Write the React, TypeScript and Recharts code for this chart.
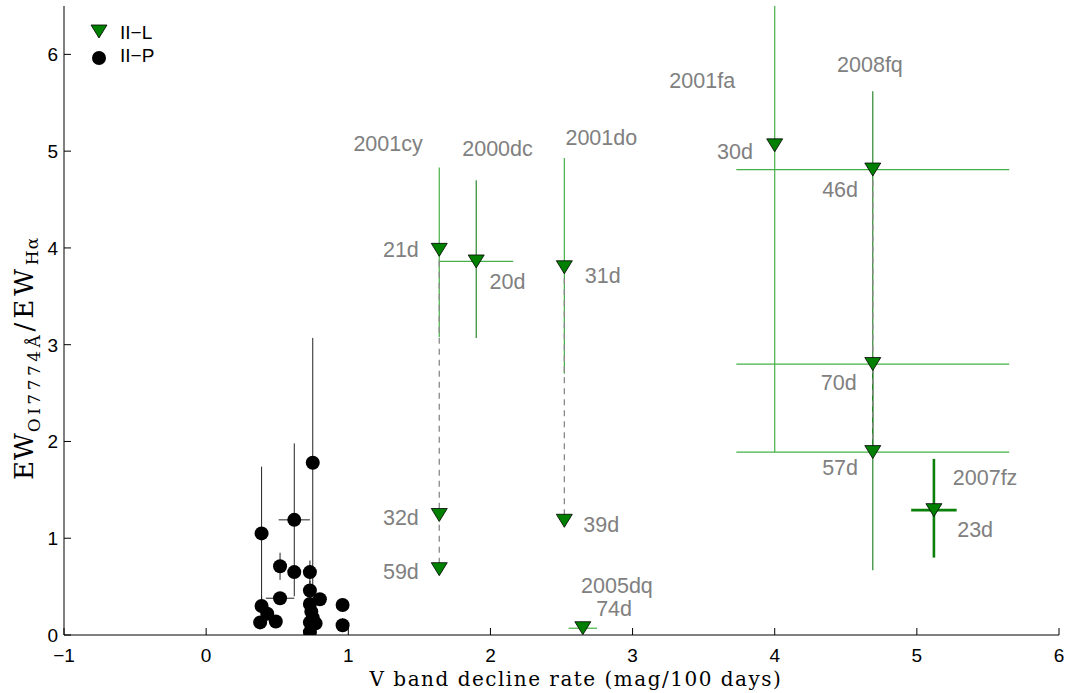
import { ErrorBar, Scatter, ScatterChart, XAxis, YAxis } from 'recharts'

// Type II-L measurements
const IIL_NAMES = ['2001cy', '2001cy', '2001cy', '2000dc', '2001do', '2001do', '2005dq', '2001fa', '2008fq', '2008fq', '2008fq', '2007fz']
const IIL_EPOCHS = ['21d', '32d', '59d', '20d', '31d', '39d', '74d', '30d', '46d', '70d', '57d', '23d']
const IIL_RATE = [1.64, 1.64, 1.64, 1.9, 2.52, 2.52, 2.65, 4.0, 4.69, 4.69, 4.69, 5.12]
const IIL_RATIO = [3.98, 1.24, 0.68, 3.86, 3.8, 1.18, 0.07, 5.06, 4.81, 2.8, 1.89, 1.29]
const IIL_YERR_LO = [0.9, 0, 0, 0.79, 1.1, 0, 0, 3.17, 0.8, 0.92, 1.22, 0.49]
const IIL_YERR_HI = [0.85, 0, 0, 0.84, 1.13, 0, 0, 1.44, 0.81, 1.21, 0.9, 0.53]
const IIL_XERR = [0, 0, 0, 0.26, 0, 0, 0.1, 0, 0.96, 0.96, 0.96, 0.16]

// Type II-P measurements
const IIP_RATE = [0.75, 0.39, 0.62, 0.52, 0.62, 0.73, 0.52, 0.39, 0.43, 0.38, 0.49, 0.73, 0.8, 0.73, 0.74, 0.73, 0.77, 0.73, 0.96, 0.96, 0.75]
const IIP_RATIO = [1.78, 1.05, 1.19, 0.71, 0.65, 0.65, 0.38, 0.3, 0.22, 0.13, 0.14, 0.46, 0.37, 0.32, 0.24, 0.13, 0.12, 0.03, 0.31, 0.1, 0.18]
const IIP_YERR = [1.29, 0.69, 0.79, 0.14, 0, 0.12, 0, 0.1, 0, 0, 0, 0.1, 0.05, 0, 0, 0, 0, 0, 0.07, 0.07, 0]
const IIP_XERR = [0, 0, 0.11, 0, 0, 0, 0.1, 0, 0, 0, 0, 0, 0.05, 0, 0, 0, 0, 0, 0, 0, 0]

// Text annotations (data coordinates)
const NOTE_TEXT = ['2001cy', '2000dc', '2001do', '2001fa', '2008fq', '21d', '20d', '31d', '30d', '46d', '70d', '57d', '2007fz', '23d', '32d', '59d', '39d', '2005dq', '74d']
const NOTE_X = [1.28, 2.05, 2.78, 3.49, 4.67, 1.37, 2.12, 2.79, 3.72, 4.46, 4.45, 4.46, 5.48, 5.41, 1.37, 1.37, 2.78, 2.89, 2.87]
const NOTE_Y = [5.07, 5.02, 5.14, 5.73, 5.89, 3.98, 3.65, 3.71, 4.99, 4.6, 2.6, 1.73, 1.62, 1.09, 1.21, 0.65, 1.14, 0.51, 0.27]

const X_TICKS = [-1, 0, 1, 2, 3, 4, 5, 6]
const Y_TICKS = [0, 1, 2, 3, 4, 5, 6]

const LIGHT_V = ['2001cy', '2001do', '2001fa']
const THICK = ['2007fz']
const CONNECTED = ['2001cy', '2001do', '2008fq']

const LIGHT = '#45b045'
const DARK = '#1a7a1a'
const TICK_FONT = { fontFamily: 'Liberation Sans, Arial, sans-serif', fontSize: 19, fill: '#000' }

const iilRows = IIL_NAMES.map((name, i) => {
  const ey = [IIL_YERR_LO[i], IIL_YERR_HI[i]]
  const none = [0, 0]
  const thick = THICK.includes(name)
  return {
    name,
    epoch: IIL_EPOCHS[i],
    x: IIL_RATE[i],
    y: IIL_RATIO[i],
    eyLight: !thick && LIGHT_V.includes(name) ? ey : none,
    eyDark: !thick && !LIGHT_V.includes(name) ? ey : none,
    exLight: thick ? 0 : IIL_XERR[i],
    eyThick: thick ? ey : none,
    exThick: thick ? IIL_XERR[i] : 0,
  }
})

const connectors = CONNECTED.map((sn) =>
  iilRows.filter((r) => r.name === sn).sort((a, b) => b.y - a.y),
)

const iipRows = IIP_RATE.map((x, i) => ({ x, y: IIP_RATIO[i], ey: IIP_YERR[i], ex: IIP_XERR[i] }))

const notes = NOTE_TEXT.map((text, i) => ({ text, x: NOTE_X[i], y: NOTE_Y[i] }))

const Triangle = ({ cx, cy }: any) => (
  <path
    d={`M${cx - 8},${cy - 6.5}L${cx + 8},${cy - 6.5}L${cx},${cy + 6.5}Z`}
    fill="#008000"
    stroke="#000"
    strokeWidth={0.8}
  />
)

const Dot = ({ cx, cy }: any) => <circle cx={cx} cy={cy} r={7} fill="#000" />

const Nothing = () => <g />

const BottomTick = ({ x, y, payload }: any) => (
  <g>
    <line x1={x} y1={y} x2={x} y2={y - 7} stroke="#000" />
    <text x={x} y={y + 27} textAnchor="middle" {...TICK_FONT}>
      {payload.value < 0 ? `\u2212${Math.abs(payload.value)}` : payload.value}
    </text>
  </g>
)

const LeftTick = ({ x, y, payload }: any) => (
  <g>
    <line x1={x} y1={y} x2={x + 7} y2={y} stroke="#000" />
    <text x={x - 6} y={y + 7} textAnchor="end" {...TICK_FONT}>
      {payload.value}
    </text>
  </g>
)

const TopTick = ({ x, y }: any) => <line x1={x} y1={y} x2={x} y2={y + 7} stroke="#000" />
const RightTick = ({ x, y }: any) => <line x1={x} y1={y} x2={x - 7} y2={y} stroke="#000" />

const NoteShape = ({ cx, cy, payload }: any) => (
  <text
    x={cx}
    y={cy}
    textAnchor="middle"
    dominantBaseline="central"
    fontFamily="Liberation Sans, Arial, sans-serif"
    fontSize={21.5}
    fill="#808080"
  >
    {payload.text}
  </text>
)

const XLabel = () => (
  <text
    x={576}
    y={686}
    textAnchor="middle"
    fontFamily="DejaVu Serif, serif"
    fontSize={20}
    letterSpacing={1.5}
    fill="#000"
  >
    V band decline rate (mag/100 days)
  </text>
)

const YLabel = () => (
  <text
    transform="translate(33,480) rotate(-90)"
    textAnchor="start"
    fontFamily="DejaVu Serif, serif"
    fontSize={26}
    letterSpacing={1}
    fill="#000"
  >
    EW
    <tspan fontSize={17} dy={7} letterSpacing={3.5}>OI7774Å</tspan>
    <tspan dy={-7} letterSpacing={4}>/EW</tspan>
    <tspan fontSize={17} dy={5}>Hα</tspan>
  </text>
)

const LegendBox = () => (
  <svg
    width={110}
    height={60}
    style={{ position: 'absolute', left: 80, top: 14, pointerEvents: 'none' }}
  >
    <path d="M11,11L27,11L19,24Z" fill="#008000" stroke="#000" strokeWidth={0.8} />
    <text x={40} y={25} {...TICK_FONT}>II−L</text>
    <circle cx={19} cy={44} r={7} fill="#000" />
    <text x={40} y={48} {...TICK_FONT}>II−P</text>
  </svg>
)

export default function App() {
  return (
    <div style={{ position: 'absolute', left: 0, top: 0, background: '#fff' }}>
      <ScatterChart width={1069} height={693} margin={{ top: 6, right: 10, bottom: 0, left: 0 }}>
        <XAxis
          dataKey="x"
          type="number"
          domain={[-1, 6]}
          ticks={X_TICKS}
          allowDataOverflow
          height={58}
          tickSize={0}
          tickMargin={0}
          tick={<BottomTick />}
          stroke="#000"
          label={<XLabel />}
        />
        <XAxis
          xAxisId="top"
          orientation="top"
          dataKey="x"
          type="number"
          domain={[-1, 6]}
          ticks={X_TICKS}
          allowDataOverflow
          height={0}
          tickSize={0}
          tickMargin={0}
          tick={<TopTick />}
          stroke="#000"
        />
        <YAxis
          dataKey="y"
          type="number"
          domain={[0, 6.5]}
          ticks={Y_TICKS}
          allowDataOverflow
          width={64}
          tickSize={0}
          tickMargin={0}
          tick={<LeftTick />}
          stroke="#000"
          label={<YLabel />}
        />
        <YAxis
          yAxisId="right"
          orientation="right"
          dataKey="y"
          type="number"
          domain={[0, 6.5]}
          ticks={Y_TICKS}
          allowDataOverflow
          width={0}
          tickSize={0}
          tickMargin={0}
          tick={<RightTick />}
          stroke="#000"
        />

        {connectors.map((pts, i) => (
          <Scatter
            key={`c${i}`}
            data={pts}
            line={{ stroke: '#888', strokeWidth: 1.3, strokeDasharray: '6 5' }}
            lineType="joint"
            shape={<Nothing />}
            legendType="none"
            isAnimationActive={false}
          />
        ))}

        <Scatter data={iipRows} shape={<Dot />} name="II−P" isAnimationActive={false}>
          <ErrorBar dataKey="ey" direction="y" width={0} stroke="#222" strokeWidth={1} />
          <ErrorBar dataKey="ex" direction="x" width={0} stroke="#222" strokeWidth={1} />
        </Scatter>

        <Scatter data={iilRows} shape={<Triangle />} name="II−L" isAnimationActive={false}>
          <ErrorBar dataKey="eyLight" direction="y" width={0} stroke={LIGHT} strokeWidth={1.2} />
          <ErrorBar dataKey="eyDark" direction="y" width={0} stroke={DARK} strokeWidth={1.1} />
          <ErrorBar dataKey="exLight" direction="x" width={0} stroke={LIGHT} strokeWidth={1.2} />
          <ErrorBar dataKey="eyThick" direction="y" width={0} stroke="#0a800a" strokeWidth={2.6} />
          <ErrorBar dataKey="exThick" direction="x" width={0} stroke="#0a800a" strokeWidth={2.6} />
        </Scatter>

        <Scatter data={notes} shape={<NoteShape />} legendType="none" isAnimationActive={false} />
      </ScatterChart>
      <LegendBox />
    </div>
  )
}
